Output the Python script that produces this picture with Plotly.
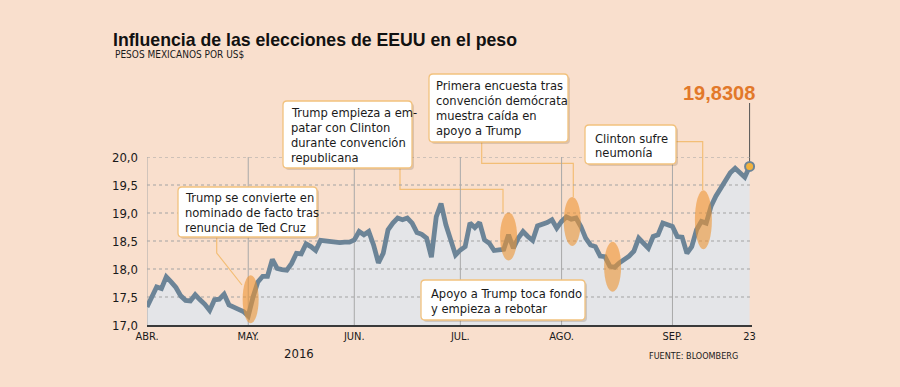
import plotly.graph_objects as go

# ---------------- data ----------------
apr_days = [1, 4, 5, 6, 7, 8, 11, 12, 13, 14, 15, 18, 19, 20, 21, 22, 25, 26, 27, 28, 29]
apr_vals = [17.32, 17.50, 17.68, 17.65, 17.86, 17.77, 17.67, 17.52, 17.44, 17.43, 17.54,
            17.45, 17.37, 17.26, 17.45, 17.46, 17.55, 17.36, 17.31, 17.28, 17.24]
may_days = [2, 3, 4, 5, 6, 9, 10, 11, 12, 13, 16, 17, 18, 19, 20, 23, 24, 25, 26, 27, 30, 31]
may_vals = [17.16, 17.50, 17.77, 17.87, 17.87, 18.17, 18.01, 17.99, 17.98, 18.10, 18.28,
            18.27, 18.45, 18.40, 18.33, 18.51, 18.50, 18.49, 18.46, 18.47, 18.48, 18.48]
jun_days = [1, 2, 3, 6, 7, 8, 9, 10, 13, 14, 15, 16, 17, 20, 21, 22, 23, 24, 27, 28, 29, 30]
jun_vals = [18.52, 18.67, 18.61, 18.67, 18.43, 18.11, 18.28, 18.70, 18.82, 18.91, 18.88,
            18.91, 18.82, 18.65, 18.62, 18.55, 18.21, 18.93, 19.17, 18.79, 18.52, 18.25]
jul_days = [1, 4, 5, 6, 7, 8, 11, 12, 13, 14, 15, 18, 19, 20, 21, 22, 25, 26, 27, 28, 29]
jul_vals = [18.34, 18.40, 18.82, 18.74, 18.83, 18.52, 18.46, 18.33, 18.34, 18.35, 18.61,
            18.37, 18.55, 18.67, 18.58, 18.51, 18.77, 18.79, 18.83, 18.88, 18.73]
aug_days = [1, 2, 3, 4, 5, 8, 9, 10, 11, 12, 15, 16, 17, 18, 19, 22, 23, 24, 25, 26, 29, 30, 31]
aug_vals = [18.85, 18.93, 18.89, 18.91, 18.76, 18.55, 18.43, 18.40, 18.23, 18.22, 18.05,
            18.03, 18.11, 18.17, 18.23, 18.32, 18.55, 18.46, 18.37, 18.58, 18.61, 18.82, 18.79]
sep_days = [1, 2, 5, 6, 7, 8, 9, 12, 13, 14, 15, 16, 19, 20, 21, 22, 23]
sep_vals = [18.76, 18.58, 18.57, 18.28, 18.40, 18.70, 18.85, 18.82, 19.12, 19.30, 19.45,
            19.59, 19.72, 19.80, 19.72, 19.64, 19.8308]

tick_dates = ["2016-04-01", "2016-05-02", "2016-06-01", "2016-07-01", "2016-08-01",
              "2016-09-01", "2016-09-23"]
tick_labels = ["ABR.", "MAY.", "JUN.", "JUL.", "AGO.", "SEP.", "23"]
month_grid_dates = tick_dates[:6]
y_ticks = [17.0, 17.5, 18.0, 18.5, 19.0, 19.5, 20.0]

# highlighted events: (date, value at centre, width px, height px)
events = [
    ("2016-05-02 12:00", 17.46, 16, 48),
    ("2016-07-15 00:00", 18.58, 17, 48),
    ("2016-08-03 05:00", 18.85, 17, 49),
    ("2016-08-15 14:00", 18.04, 17, 50),
    ("2016-09-09 10:00", 18.88, 17, 59),
]

title = "Influencia de las elecciones de EEUU en el peso"
subtitle = "PESOS MEXICANOS POR US$"
source = "FUENTE: BLOOMBERG"
year_label = "2016"

notes = [
    # (box left, top, right, bottom, text x, lines, first line centre y, line step)
    (178, 187, 317, 237, 183, ["Trump se convierte en", "nominado de facto tras", "renuncia de Ted Cruz"], 197, 15),
    (283, 101, 412, 168, 289, ["Trump empieza a em-", "patar con Clinton", "durante convención", "republicana"], 112, 15),
    (429, 74, 568, 142, 434, ["Primera encuesta tras", "convención demócrata", "muestra caída en", "apoyo a Trump"], 85.5, 15),
    (585, 125, 676, 164, 593, ["Clinton sufre", "neumonía"], 138.5, 14.4),
    (421, 280, 585, 320, 429, ["Apoyo a Trump toca fondo", "y empieza a rebotar"], 293.5, 15),
]
connectors = [
    [(216.7, 237), (216.7, 253), (242, 285)],
    [(400, 168), (400, 189.3), (503, 189.3), (503, 213)],
    [(481.7, 142), (481.7, 163.3), (573.3, 163.3), (573.3, 197)],
    [(676, 141.7), (702.7, 141.7), (702.7, 190)],
    [(585, 306.7), (612.7, 306.7), (612.7, 291.7)],
]

# ---------------- build ----------------
dates, values = [], []
for m, days, vals in [(4, apr_days, apr_vals), (5, may_days, may_vals), (6, jun_days, jun_vals),
                      (7, jul_days, jul_vals), (8, aug_days, aug_vals), (9, sep_days, sep_vals)]:
    for d, v in zip(days, vals):
        dates.append(f"2016-{m:02d}-{d:02d}")
        values.append(v)

W, H = 900, 387
L, R, T, B = 147, 752, 157, 325
def PX(x):
    return (x - L) / (R - L)
def PY(y):
    return (B - y) / (B - T)

NARROW = "DejaVu Sans Condensed, Liberation Sans Narrow, sans-serif"
SANS = "Liberation Sans, Arial, sans-serif"
LINE_C = "#6C8497"
BG = "#F9DFCD"

x_start = dates[0]
x_end = "2016-09-23 12:00"

fig = go.Figure()
# area fill
fig.add_trace(go.Scatter(x=dates, y=values, mode="lines", line=dict(width=0),
                         fill="tozeroy", fillcolor="#E4E5E8", hoverinfo="skip"))
# horizontal dotted grid
gx, gy = [], []
for v in y_ticks[1:]:
    gx += [x_start, x_end, None]
    gy += [v, v, None]
fig.add_trace(go.Scatter(x=gx, y=gy, mode="lines", line=dict(color="#A3A3A3", width=1, dash="dot"),
                         hoverinfo="skip"))
# vertical month grid
vx, vy = [], []
for d in month_grid_dates:
    vx += [d, d, None]
    vy += [y_ticks[0], y_ticks[-1], None]
fig.add_trace(go.Scatter(x=vx, y=vy, mode="lines", line=dict(color="#A9A9A9", width=1),
                         hoverinfo="skip"))
# main line
fig.add_trace(go.Scatter(x=dates, y=values, mode="lines", line=dict(color=LINE_C, width=4.8),
                         hoverinfo="skip"))

shapes = []
# value label stem
shapes.append(dict(type="line", xref="x", yref="paper", x0=dates[-1], x1=dates[-1],
                   y0=(values[-1] - y_ticks[0]) / (y_ticks[-1] - y_ticks[0]), y1=PY(103),
                   line=dict(color="#555555", width=1), layer="below"))
# connectors
for pts in connectors:
    path = "M " + " L ".join(f"{PX(x):.5f},{PY(y):.5f}" for x, y in pts)
    shapes.append(dict(type="path", xref="paper", yref="paper", path=path,
                       line=dict(color="#F3BE76", width=1.2), layer="below"))

def rrect(x0, y0, x1, y1, r=4):
    rx, ry = r / (R - L), r / (B - T)
    a0, a1 = PX(x0), PX(x1)
    b0, b1 = PY(y0), PY(y1)  # b0 top (larger), b1 bottom
    return (f"M {a0+rx},{b0} L {a1-rx},{b0} Q {a1},{b0} {a1},{b0-ry} "
            f"L {a1},{b1+ry} Q {a1},{b1} {a1-rx},{b1} L {a0+rx},{b1} "
            f"Q {a0},{b1} {a0},{b1+ry} L {a0},{b0-ry} Q {a0},{b0} {a0+rx},{b0} Z")

annotations = []
for (x0, y0, x1, y1, tx, lines, ly0, dy) in notes:
    shapes.append(dict(type="path", xref="paper", yref="paper", path=rrect(x0 + 2, y0 + 2, x1 + 2, y1 + 2),
                       fillcolor="rgba(120,90,60,0.22)", line=dict(width=0), layer="above"))
    shapes.append(dict(type="path", xref="paper", yref="paper", path=rrect(x0, y0, x1, y1),
                       fillcolor="white", line=dict(color="#F2C27E", width=1.3), layer="above"))
    for k, t in enumerate(lines):
        annotations.append(dict(text=t, xref="paper", yref="paper", x=PX(tx), y=PY(ly0 + k * dy),
                                xanchor="left", yanchor="middle", showarrow=False,
                                font=dict(family=NARROW, size=12.8, color="#1A1A1A")))

# event ellipses
for d, v, w, h in events:
    shapes.append(dict(type="circle", xref="x", yref="y", xsizemode="pixel", ysizemode="pixel",
                       xanchor=d, yanchor=v, x0=-w / 2, x1=w / 2, y0=-h / 2, y1=h / 2,
                       fillcolor="rgba(236,148,52,0.6)", line=dict(width=0), layer="above"))

# end dot
fig.add_trace(go.Scatter(x=[dates[-1]], y=[values[-1]], mode="markers",
                         marker=dict(size=9, color="#F2B23E", line=dict(color=LINE_C, width=2)),
                         hoverinfo="skip", cliponaxis=False))

annotations += [
    dict(text=f"{values[-1]:.4f}".replace(".", ","), xref="x", yref="paper", x=dates[-1], y=PY(93),
         xanchor="right", yanchor="middle", xshift=7, showarrow=False,
         font=dict(family=SANS, size=20, color="#E2782A", weight="bold")),
    dict(text=subtitle, xref="paper", yref="paper", x=PX(113), y=PY(55), xanchor="left",
         yanchor="middle", showarrow=False, font=dict(family=NARROW, size=10, color="#1A1A1A")),
    dict(text=year_label, xref="paper", yref="paper", x=PX(298.5), y=PY(353), xanchor="center",
         yanchor="middle", showarrow=False, font=dict(family=NARROW, size=13, color="#1A1A1A")),
    dict(text=source, xref="paper", yref="paper", x=PX(740), y=PY(356), xanchor="right",
         yanchor="middle", showarrow=False, font=dict(family=NARROW, size=9, color="#1A1A1A")),
]

fig.update_layout(
    width=W, height=H,
    margin=dict(l=L, r=W - R, t=T, b=H - B),
    paper_bgcolor=BG, plot_bgcolor=BG,
    showlegend=False,
    separators=",.",
    title=dict(text=f"<b>{title}</b>", x=113 / W, xanchor="left", xref="container",
               y=1 - 40 / H, yanchor="middle", yref="container",
               font=dict(family=SANS, size=17.7, color="#111111")),
    shapes=shapes,
    annotations=annotations,
    xaxis=dict(type="date", range=[x_start, x_end], rangebreaks=[dict(bounds=["sat", "mon"])],
               tickmode="array", tickvals=tick_dates, ticktext=tick_labels,
               showgrid=False, zeroline=False, showline=True, linecolor="#3A3A3A", linewidth=1.5,
               ticks="", tickfont=dict(family=NARROW, size=11, color="#1A1A1A")),
    yaxis=dict(range=[y_ticks[0], y_ticks[-1]], tickmode="array", tickvals=y_ticks,
               tickformat=".1f", showgrid=False, zeroline=False, showline=False, ticks="",
               ticklabelstandoff=8,
               tickfont=dict(family=NARROW, size=13, color="#1A1A1A")),
)

fig.write_html("out.html", config={"displayModeBar": False},
               post_script="document.body.style.margin='0';document.body.style.overflow='hidden';")
